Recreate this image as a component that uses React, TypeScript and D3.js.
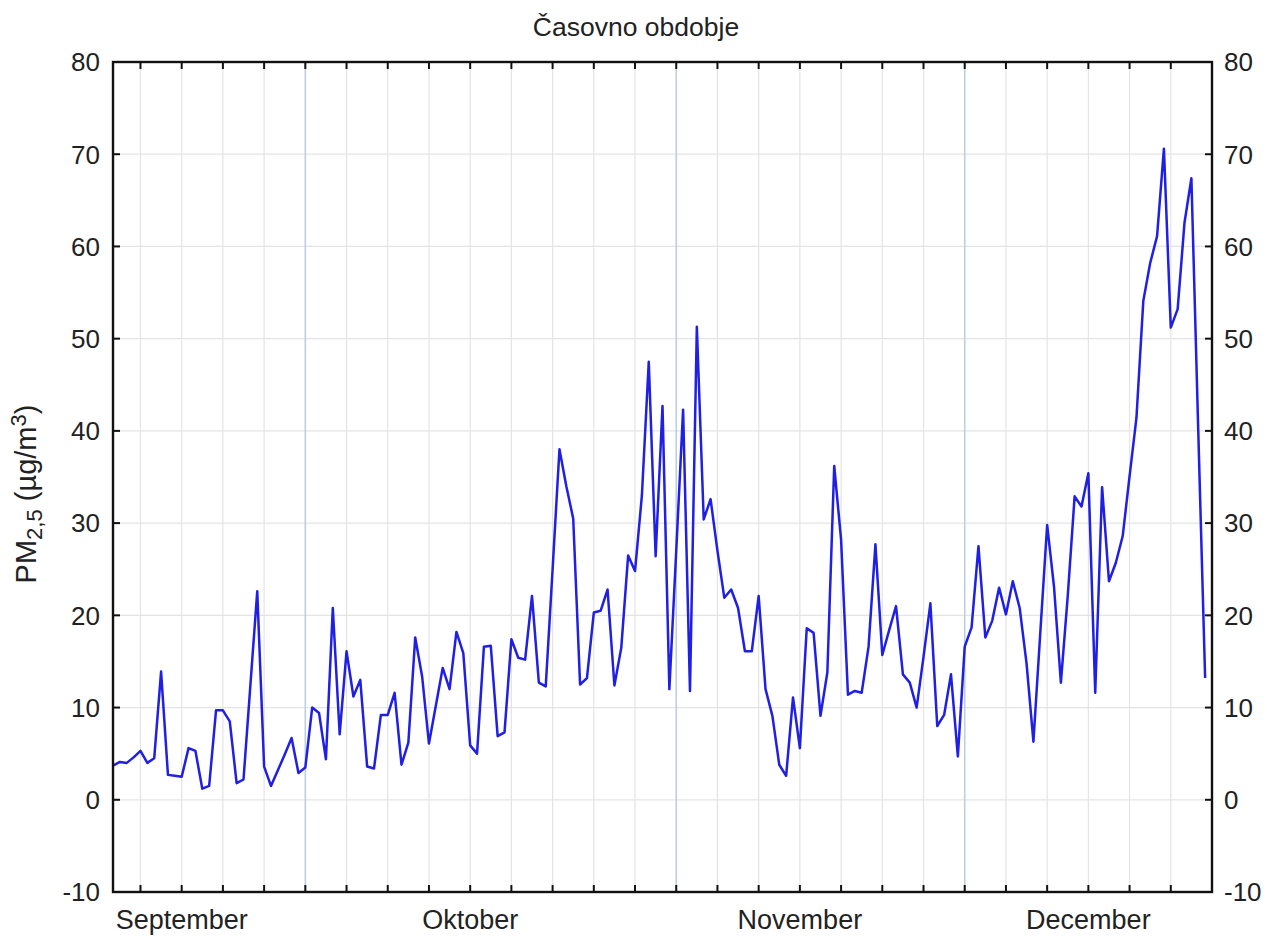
import React from 'react';
import * as d3 from 'd3';

// PM2.5 daily values (sample index 0..159)
const pm25: number[] = [
  3.7, 4.1, 4.0, 4.6, 5.3, 4.0, 4.5, 13.9, 2.7, 2.6,
  2.5, 5.6, 5.3, 1.2, 1.5, 9.7, 9.7, 8.5, 1.8, 2.2,
  12.4, 22.6, 3.6, 1.5, 3.2, 4.9, 6.7, 2.9, 3.5, 10.0,
  9.4, 4.4, 20.8, 7.1, 16.1, 11.2, 13.0, 3.6, 3.4, 9.2,
  9.2, 11.6, 3.8, 6.2, 17.6, 13.4, 6.1, 10.2, 14.3, 12.0,
  18.2, 15.9, 5.9, 5.0, 16.6, 16.7, 6.9, 7.3, 17.4, 15.4,
  15.2, 22.1, 12.7, 12.3, 25.0, 38.0, 34.0, 30.5, 12.5, 13.2,
  20.3, 20.5, 22.8, 12.4, 16.5, 26.5, 24.8, 33.0, 47.5, 26.4,
  42.7, 12.0, 27.0, 42.3, 11.8, 51.3, 30.4, 32.6, 27.0, 21.9,
  22.8, 20.8, 16.1, 16.1, 22.1, 12.0, 9.1, 3.8, 2.6, 11.1,
  5.6, 18.6, 18.1, 9.1, 13.8, 36.2, 28.2, 11.4, 11.8, 11.6,
  16.6, 27.7, 15.7, 18.4, 21.0, 13.6, 12.7, 10.0, 15.5, 21.3,
  8.0, 9.2, 13.6, 4.7, 16.6, 18.7, 27.5, 17.6, 19.4, 23.0,
  20.1, 23.7, 20.8, 14.8, 6.3, 18.1, 29.8, 23.1, 12.7, 22.1,
  32.9, 31.8, 35.4, 11.6, 33.9, 23.7, 25.7, 28.6, 35.1, 41.4,
  54.1, 58.2, 61.1, 70.6, 51.2, 53.2, 62.6, 67.4, 40.0, 13.2,
];

const yTicks = [-10, 0, 10, 20, 30, 40, 50, 60, 70, 80];
const xTickIdx = [4, 10, 16, 22, 28, 34, 40, 46, 52, 58, 64, 70, 76, 82, 88, 94, 100, 106, 112, 118, 124, 130, 136, 142, 148, 154];
const monthBoundaryIdx = [28, 82, 124];
const monthNames = ['September', 'Oktober', 'November', 'December'];
const monthLabelIdx = [10, 52, 100, 142];

const W = 1267;
const H = 936;
const L = 113, R = 1212, T = 62, B = 892;
const FONT = 'Liberation Sans, Arial, sans-serif';

export default function App() {
  const x = d3.scaleLinear().domain([0, 160]).range([L, R]);
  const y = d3.scaleLinear().domain([-10, 80]).range([B, T]);
  const line = d3.line<number>().x((_, i) => x(i)).y((d) => y(d));
  const tickLen = 7;

  return (
    <svg width={W} height={H} style={{ position: 'absolute', left: 0, top: 0, background: '#fff' }} fontFamily={FONT}>
      <rect x={0} y={0} width={W} height={H} fill="#fff" />
      {/* horizontal grid */}
      {yTicks.map((t) => (
        <line key={'hg' + t} x1={L} x2={R} y1={y(t)} y2={y(t)} stroke="#e4e4e4" strokeWidth={1.2} />
      ))}
      {/* vertical grid */}
      {xTickIdx.map((t) => (
        <line key={'vg' + t} x1={x(t)} x2={x(t)} y1={T} y2={B}
          stroke={monthBoundaryIdx.includes(t) ? '#bccfe0' : '#e4e4e4'} strokeWidth={monthBoundaryIdx.includes(t) ? 1.6 : 1.2} />
      ))}
      {/* data line */}
      <path d={line(pm25) || ''} fill="none" stroke="#1f1fe6" strokeWidth={2.5} strokeLinejoin="round" />
      {/* frame */}
      <rect x={L} y={T} width={R - L} height={B - T} fill="none" stroke="#111" strokeWidth={2.4} />
      {/* x ticks top and bottom (inward) */}
      {xTickIdx.map((t) => (
        <g key={'xt' + t}>
          <line x1={x(t)} x2={x(t)} y1={T} y2={T + tickLen} stroke="#111" strokeWidth={2} />
          <line x1={x(t)} x2={x(t)} y1={B} y2={B - tickLen} stroke="#111" strokeWidth={2} />
        </g>
      ))}
      {/* y ticks left and right (inward) */}
      {yTicks.map((t) => (
        <g key={'yt' + t}>
          <line x1={L} x2={L + tickLen} y1={y(t)} y2={y(t)} stroke="#111" strokeWidth={2} />
          <line x1={R} x2={R - tickLen} y1={y(t)} y2={y(t)} stroke="#111" strokeWidth={2} />
          <text x={L - 13} y={y(t)} dy="0.36em" textAnchor="end" fontSize={26} fill="#222">{t}</text>
          <text x={R + 12} y={y(t)} dy="0.36em" textAnchor="start" fontSize={26} fill="#222">{t}</text>
        </g>
      ))}
      {/* month labels */}
      {monthNames.map((m, i) => (
        <text key={m} x={x(monthLabelIdx[i])} y={929} textAnchor="middle" fontSize={27} fill="#222">{m}</text>
      ))}
      {/* title */}
      <text x={636} y={36} textAnchor="middle" fontSize={26.5} fill="#222">Časovno obdobje</text>
      {/* y label */}
      <text transform="translate(36,494) rotate(-90)" textAnchor="middle" fontSize={29} fill="#222">
        PM<tspan fontSize={22} dy={6}>2,5</tspan><tspan dy={-6}> (µg/m</tspan><tspan fontSize={22} dy={-10}>3</tspan><tspan dy={10}>)</tspan>
      </text>
    </svg>
  );
}
